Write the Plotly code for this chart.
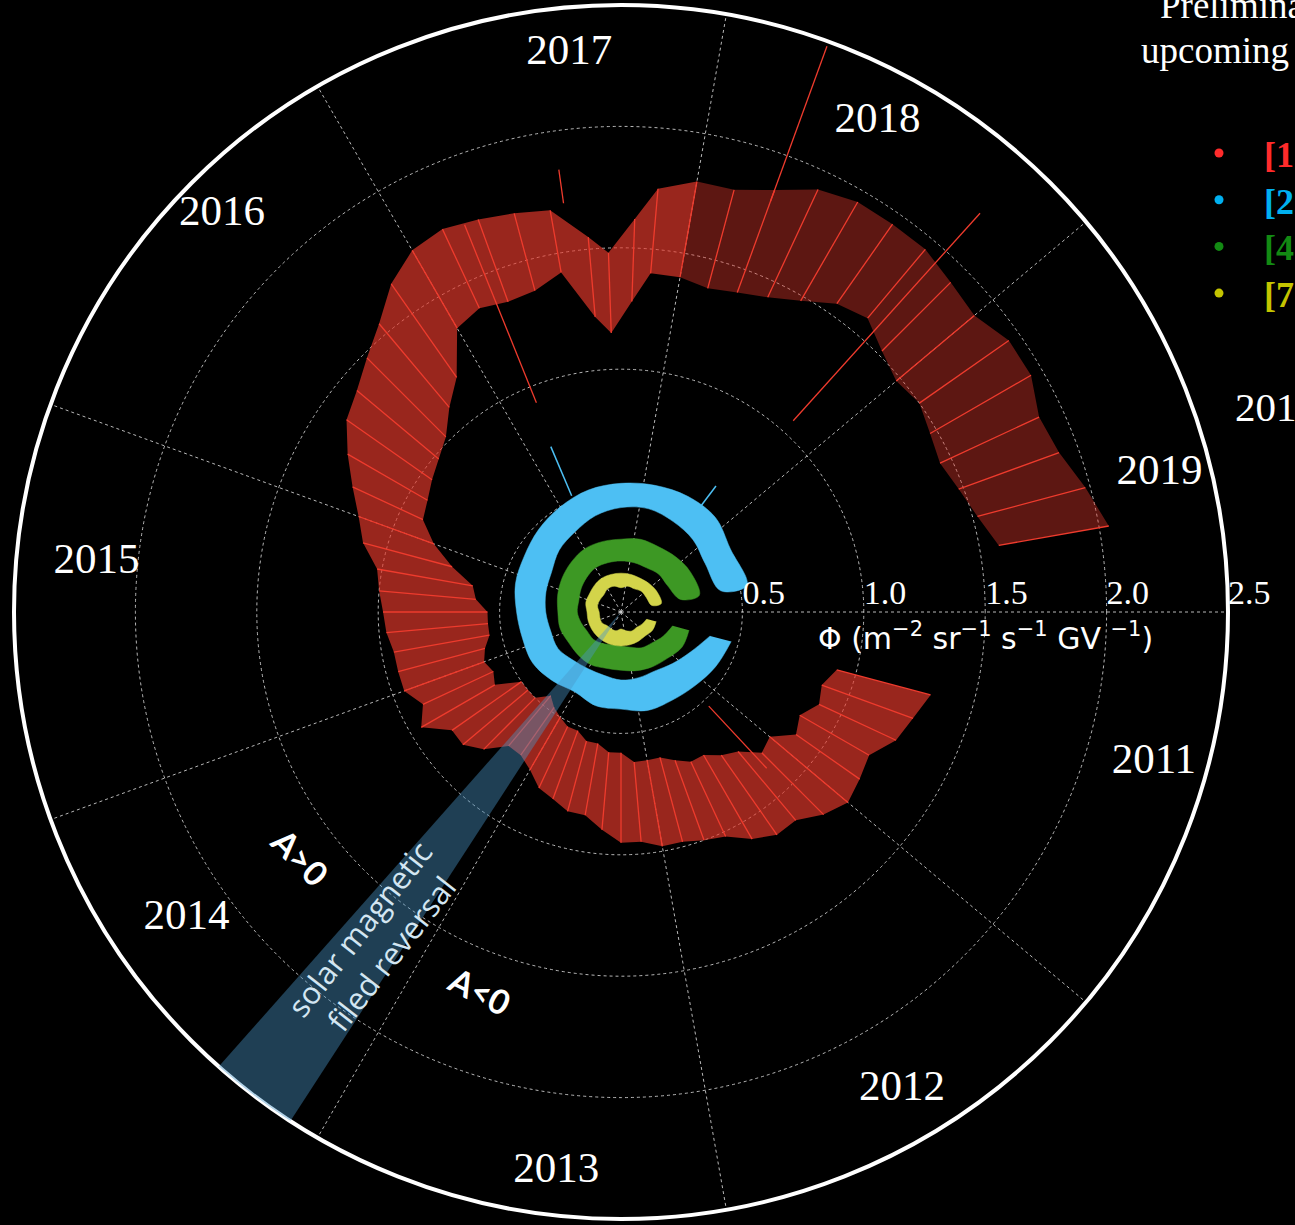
import numpy as np
import plotly.graph_objects as go

W, H = 1295, 1225

# ---------------- data ----------------
# angle convention of the chart: one full turn = 9 years starting 2011.0, clockwise
YEAR0 = 2011.0
DEG_PER_YEAR = 40.0

# Red series (lowest rigidity bin) : inner / outer envelope of daily fluxes
red_year = [2011.375, 2011.5, 2011.625, 2011.75, 2011.875, 2012.0, 2012.125, 2012.25,
            2012.375, 2012.5, 2012.625, 2012.75, 2012.875, 2013.0, 2013.125, 2013.25,
            2013.375, 2013.5, 2013.625, 2013.75, 2013.875, 2014.0, 2014.125, 2014.25,
            2014.375, 2014.5, 2014.625, 2014.75, 2014.875, 2015.0, 2015.125, 2015.25,
            2015.375, 2015.5, 2015.625, 2015.75, 2015.875, 2016.0, 2016.125, 2016.25,
            2016.375, 2016.5, 2016.625, 2016.75, 2016.875, 2017.0, 2017.125, 2017.25,
            2017.375, 2017.5, 2017.625, 2017.7, 2017.8, 2017.875, 2018.0, 2018.125,
            2018.25, 2018.375, 2018.5, 2018.625, 2018.75, 2018.875, 2019.0, 2019.125,
            2019.25, 2019.375, 2019.5, 2019.625, 2019.75]
red_lo = [0.92, 0.88, 0.90, 0.85, 0.88, 0.80, 0.82, 0.75,
          0.72, 0.68, 0.68, 0.65, 0.62, 0.62, 0.62, 0.58,
          0.58, 0.55, 0.55, 0.52, 0.52, 0.50, 0.48, 0.45,
          0.50, 0.50, 0.50, 0.60, 0.58, 0.60, 0.58, 0.55,
          0.55, 0.55, 0.60, 0.62, 0.72, 0.82, 0.90, 0.92,
          0.95, 0.98, 1.02, 1.10, 1.18, 1.35, 1.38, 1.36,
          1.37, 1.42, 1.22, 1.15, 1.28, 1.40, 1.40, 1.38,
          1.40, 1.43, 1.48, 1.55, 1.58, 1.52, 1.48, 1.50,
          1.47, 1.45, 1.48, 1.52, 1.58]
red_hi = [1.32, 1.28, 1.25, 1.18, 1.20, 1.22, 1.18, 1.12,
          1.12, 1.08, 1.02, 1.00, 0.98, 0.98, 0.95, 0.95,
          0.90, 0.85, 0.85, 0.82, 0.80, 0.75, 0.72, 0.72,
          0.80, 0.85, 0.85, 0.95, 0.90, 0.95, 0.95, 0.95,
          0.97, 0.98, 1.00, 1.02, 1.10, 1.15, 1.22, 1.30,
          1.38, 1.42, 1.48, 1.55, 1.65, 1.72, 1.74, 1.72,
          1.70, 1.68, 1.55, 1.48, 1.62, 1.75, 1.80, 1.80,
          1.85, 1.92, 1.95, 1.95, 1.95, 1.92, 1.90, 1.95,
          1.95, 1.90, 1.92, 1.98, 2.04]

# isolated single-day excursions (year, from, to)
red_spike_year = [2012.175, 2017.2, 2017.55, 2018.25, 2018.8]
red_spike_r0 = [0.88, 1.72, 1.70, 1.80, 1.06]
red_spike_r1 = [0.53, 0.93, 1.84, 2.48, 2.21]

# higher rigidity bins
band_year = [2011.375, 2011.75, 2012.125, 2012.5, 2012.875, 2013.25, 2013.625, 2014.0,
             2014.375, 2014.75, 2015.125, 2015.5, 2015.875, 2016.25, 2016.625, 2017.0,
             2017.375, 2017.75, 2018.125, 2018.5, 2018.875, 2019.25, 2019.7]
blue_lo = [0.38, 0.33, 0.30, 0.28, 0.28, 0.28, 0.27, 0.27, 0.28, 0.30, 0.30, 0.31,
           0.32, 0.33, 0.36, 0.38, 0.41, 0.43, 0.44, 0.43, 0.42, 0.40, 0.42]
blue_hi = [0.47, 0.45, 0.43, 0.42, 0.42, 0.40, 0.40, 0.38, 0.40, 0.42, 0.42, 0.43,
           0.45, 0.46, 0.48, 0.50, 0.52, 0.53, 0.54, 0.55, 0.55, 0.52, 0.53]
green_lo = [0.22, 0.20, 0.18, 0.17, 0.15, 0.14, 0.14, 0.15, 0.16, 0.16, 0.17, 0.18,
            0.18, 0.19, 0.20, 0.21, 0.21, 0.21, 0.21, 0.21, 0.22, 0.22, 0.25]
green_hi = [0.29, 0.29, 0.27, 0.26, 0.25, 0.24, 0.24, 0.25, 0.25, 0.25, 0.26, 0.26,
            0.27, 0.28, 0.29, 0.30, 0.30, 0.30, 0.31, 0.31, 0.32, 0.33, 0.33]
yellow_lo = [0.11, 0.10, 0.09, 0.09, 0.08, 0.07, 0.08, 0.08, 0.08, 0.09, 0.09, 0.09,
             0.10, 0.10, 0.10, 0.11, 0.11, 0.10, 0.11, 0.11, 0.12, 0.12, 0.13]
yellow_hi = [0.15, 0.15, 0.14, 0.14, 0.14, 0.14, 0.14, 0.14, 0.14, 0.14, 0.14, 0.14,
             0.15, 0.15, 0.155, 0.16, 0.16, 0.16, 0.16, 0.16, 0.165, 0.17, 0.17]
blue_spike_year = [2017.175, 2018.675]
blue_spike_r0 = [0.52, 0.53]
blue_spike_r1 = [0.74, 0.65]

# solar magnetic field reversal period (shaded wedge)
reversal_start, reversal_end = 2014.075, 2014.2875

# axis / tick labels
years = ['2011', '2012', '2013', '2014', '2015', '2016', '2017', '2018', '2019']
year_label_theta = [15.7, 59.5, 96.6, 144.8, 185.4, 224.9, 264.7, 297.6, 345.6]
year_label_r = [2.28, 2.28, 2.32, 2.19, 2.17, 2.32, 2.31, 2.28, 2.29]
r_ticks = [0.5, 1.0, 1.5, 2.0, 2.5]
r_tick_text = ['0.5', '1.0', '1.5', '2.0', '2.5']
legend_labels = ['[1.00-1.16] GV', '[2.15-2.40] GV', '[4.43-4.88] GV', '[7.09-7.76] GV']
legend_colors = ['#ff2b2b', '#00b0f0', '#138a13', '#c4c400']

# ---------------- helpers ----------------
def th(ys):
    return [(y - YEAR0) * DEG_PER_YEAR for y in ys]

def band(ys, lo, hi):
    t = th(ys)
    return list(lo) + list(hi[::-1]), t + t[::-1]

def segments(ys, r0, r1):
    r, t = [], []
    for ti, a, b in zip(th(ys), r0, r1):
        r += [a, b, None]
        t += [ti, ti, None]
    return r, t

fig = go.Figure()

RED = '#ee3b2d'
# red: dense part and sparse part of the band
split = red_year.index(2018.0)
for sl, alpha in [(slice(0, split + 1), 0.66), (slice(split, None), 0.40)]:
    r, t = band(red_year[sl], red_lo[sl], red_hi[sl])
    fig.add_trace(go.Scatterpolar(r=r, theta=t, mode='lines', fill='toself',
                                  fillcolor=f'rgba(232,57,44,{alpha})',
                                  line=dict(width=0), hoverinfo='skip'))
# each reading drawn as a radial range line
r, t = segments(red_year, red_lo, red_hi)
fig.add_trace(go.Scatterpolar(r=r, theta=t, mode='lines', line=dict(color=RED, width=1.3),
                              connectgaps=False, hoverinfo='skip'))
r, t = segments(red_spike_year, red_spike_r0, red_spike_r1)
fig.add_trace(go.Scatterpolar(r=r, theta=t, mode='lines', line=dict(color=RED, width=1.3),
                              connectgaps=False, hoverinfo='skip'))

for lo, hi, col in [(blue_lo, blue_hi, '#4dbff3'),
                    (green_lo, green_hi, '#3d9824'),
                    (yellow_lo, yellow_hi, '#d3d44a')]:
    r, t = band(band_year, lo, hi)
    fig.add_trace(go.Scatterpolar(r=r, theta=t, mode='lines', fill='toself', fillcolor=col,
                                  line=dict(color=col, width=0.5, shape='spline'),
                                  hoverinfo='skip'))
r, t = segments(blue_spike_year, blue_spike_r0, blue_spike_r1)
fig.add_trace(go.Scatterpolar(r=r, theta=t, mode='lines', line=dict(color='#4dbff3', width=1.5),
                              connectgaps=False, hoverinfo='skip'))

# reversal wedge
arc = list(np.linspace(reversal_start, reversal_end, 12))
wr = [0] + [2.5] * len(arc) + [0]
wt = th([reversal_start] + arc + [reversal_start])
fig.add_trace(go.Scatterpolar(r=wr, theta=wt, mode='lines', fill='toself',
                              fillcolor='rgba(75,150,200,0.42)', line=dict(width=0),
                              hoverinfo='skip'))

# year labels
fig.add_trace(go.Scatterpolar(r=year_label_r, theta=year_label_theta, mode='text', text=years,
                              textfont=dict(family='Liberation Serif', size=43, color='white'),
                              cliponaxis=False, hoverinfo='skip'))
# radial tick labels
fig.add_trace(go.Scatterpolar(r=r_ticks, theta=[0] * len(r_ticks), mode='text', text=r_tick_text,
                              textposition='top right',
                              textfont=dict(family='Liberation Serif', size=34, color='white'),
                              cliponaxis=False, hoverinfo='skip'))

grid = 'rgba(215,215,215,0.85)'
fig.update_layout(
    width=W, height=H, margin=dict(l=0, r=0, t=0, b=0),
    paper_bgcolor='black', plot_bgcolor='black', showlegend=False,
    polar=dict(
        domain=dict(x=[14 / W, 1228 / W], y=[6 / H, 1220 / H]),
        bgcolor='black',
        radialaxis=dict(range=[0, 2.5], tickvals=r_ticks[:-1], showticklabels=False, ticks='',
                        showline=False, gridcolor=grid, griddash='dot', gridwidth=1,
                        layer='below traces'),
        angularaxis=dict(rotation=0, direction='clockwise', tickmode='array',
                         tickvals=[i * DEG_PER_YEAR for i in range(9)], showticklabels=False,
                         ticks='', showline=True, linecolor='white', linewidth=4,
                         gridcolor=grid, griddash='dot', gridwidth=1, layer='below traces'),
    ),
)

def px(x, y):
    return x / W, 1 - y / H

ann = []
def add(text, x, y, size, color='white', family='Liberation Serif', xanchor='center',
        angle=0, yanchor='middle'):
    xx, yy = px(x, y)
    ann.append(dict(text=text, x=xx, y=yy, xref='paper', yref='paper', showarrow=False,
                    xanchor=xanchor, yanchor=yanchor, textangle=angle,
                    font=dict(family=family, size=size, color=color)))

add('Φ (m<sup>−2</sup> sr<sup>−1</sup> s<sup>−1</sup> GV <sup>−1</sup>)', 985, 636, 30,
    family='DejaVu Sans')
add('Preliminary data', 1158, 6, 37, xanchor='left')
add('upcoming publication', 1139, 50, 37, xanchor='left')
add('2011-2019', 1233, 407, 41, xanchor='left')
for i, (lab, col) in enumerate(zip(legend_labels, legend_colors)):
    add(f'<b>{lab}</b>', 1262, 155 + i * 46.7, 36, color=col, xanchor='left')
add('<b>A>0</b>', 300, 857, 34, family='Lato', angle=45)
add('<b>A<0</b>', 480, 990, 34, family='Lato', angle=27)
add('solar magnetic<br>filed reversal', 375, 941, 31, color='#d3e6f2', family='Open Sans',
    angle=-52)
fig.update_layout(annotations=ann)

shapes = []
for i, col in enumerate(legend_colors):
    cx, cy = 1219, 153 + i * 46.7
    x0, y0 = px(cx - 4.5, cy + 4.5)
    x1, y1 = px(cx + 4.5, cy - 4.5)
    shapes.append(dict(type='circle', xref='paper', yref='paper', x0=x0, y0=y0, x1=x1, y1=y1,
                       fillcolor=col, line=dict(width=0)))
fig.update_layout(shapes=shapes)

fig.write_html('out.html', config={'displayModeBar': False},
               post_script="document.body.style.margin='0px';document.body.style.overflow='hidden';")
